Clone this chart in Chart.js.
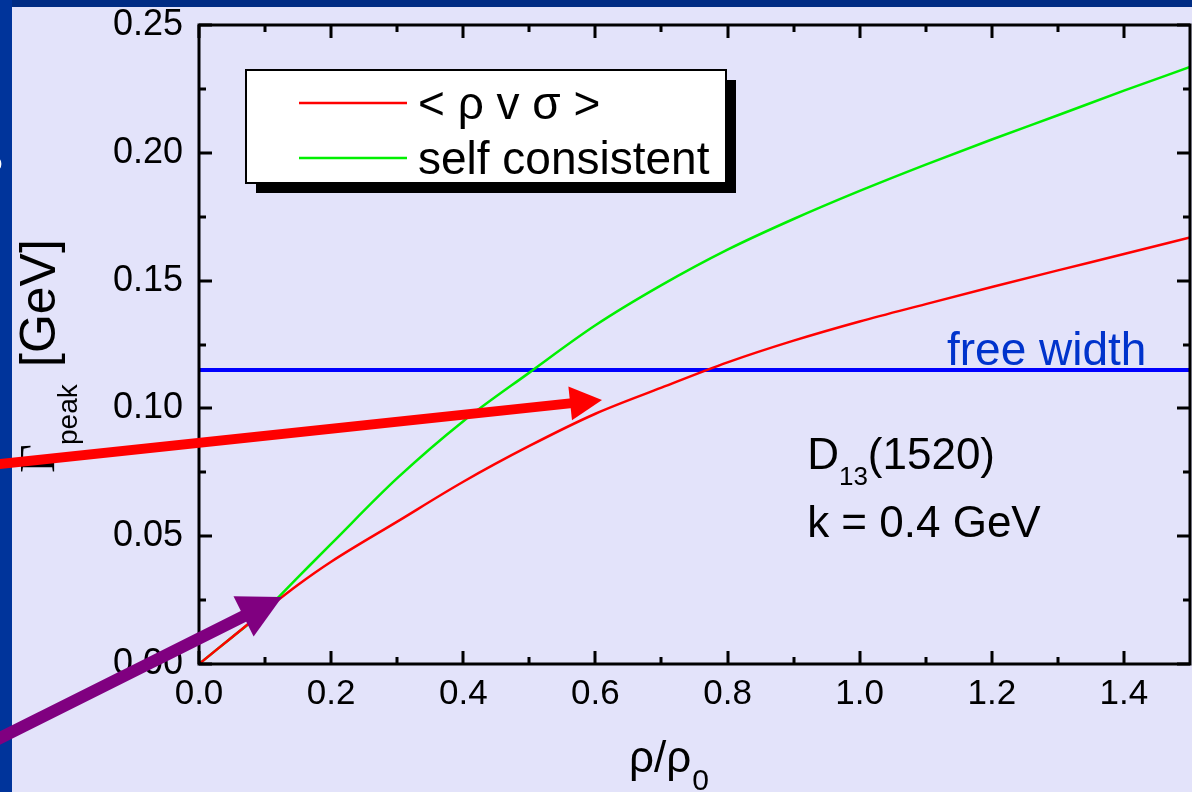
<!DOCTYPE html>
<html>
<head>
<meta charset="utf-8">
<script src="https://cdn.jsdelivr.net/npm/chart.js@4.4.1/dist/chart.umd.min.js"></script>
<style>
  html, body { margin: 0; padding: 0; background: #E3E3FA; overflow: hidden; }
  canvas { display: block; }
</style>
</head>
<body>
<canvas id="chart" width="1192" height="792"></canvas>
<script>
// Density in units of normal nuclear density
const rhoRatio = [0, 0.05, 0.1, 0.15, 0.2, 0.3, 0.4, 0.5, 0.6, 0.7, 0.8, 0.9, 1.0, 1.1, 1.2, 1.3, 1.4, 1.5];
// Peak width of the D13(1520) in GeV
const widthRhoVSigma = [0, 0.0105, 0.021, 0.031, 0.040, 0.0557, 0.0713, 0.0853, 0.0979, 0.1081, 0.118, 0.1265, 0.134, 0.1408, 0.1475, 0.154, 0.1604, 0.1669];
const widthSelfConsistent = [0, 0.0105, 0.021, 0.034, 0.047, 0.0727, 0.0950, 0.1140, 0.1325, 0.1482, 0.1621, 0.1741, 0.1851, 0.1954, 0.2052, 0.2147, 0.2243, 0.2336];
const freeWidth = 0.115;

const seriesLabels = ['< \u03C1 v \u03C3 >', 'self consistent'];
const seriesColors = ['#FF0000', '#00F000'];

const xTickValues = [0, 0.2, 0.4, 0.6, 0.8, 1.0, 1.2, 1.4];
const xMinorValues = [0.1, 0.3, 0.5, 0.7, 0.9, 1.1, 1.3];
const yTickValues = [0, 0.05, 0.10, 0.15, 0.20, 0.25];
const yMinorValues = [0.025, 0.075, 0.125, 0.175, 0.225];

// Arrow annotations in data units: [tailX, tailY, tipX, tipY]
const redArrow = [-0.3316, 0.0774, 0.610, 0.1033];
const purpleArrow = [-0.3316, -0.0329, 0.1257, 0.0262];

const FONT = '"Liberation Sans", Arial, Helvetica, sans-serif';

function toPoints(xs, ys) { return xs.map((x, i) => ({ x: x, y: ys[i] })); }

function drawArrow(ctx, x0, y0, x1, y1, shaft, headLen, headWidth, color) {
  const dx = x1 - x0, dy = y1 - y0;
  const len = Math.hypot(dx, dy);
  const ux = dx / len, uy = dy / len;
  const bx = x1 - ux * headLen, by = y1 - uy * headLen;
  ctx.save();
  ctx.strokeStyle = color;
  ctx.fillStyle = color;
  ctx.lineWidth = shaft;
  ctx.lineCap = 'butt';
  ctx.beginPath();
  ctx.moveTo(x0, y0);
  ctx.lineTo(bx + ux * 2, by + uy * 2);
  ctx.stroke();
  ctx.beginPath();
  ctx.moveTo(x1, y1);
  ctx.lineTo(bx - uy * headWidth / 2, by + ux * headWidth / 2);
  ctx.lineTo(bx + uy * headWidth / 2, by - ux * headWidth / 2);
  ctx.closePath();
  ctx.fill();
  ctx.restore();
}

function rotatedText(ctx, text, font, baseX, startY) {
  ctx.save();
  ctx.translate(baseX, startY);
  ctx.rotate(-Math.PI / 2);
  ctx.font = font;
  ctx.textAlign = 'left';
  ctx.textBaseline = 'alphabetic';
  ctx.fillText(text, 0, 0);
  ctx.restore();
}

const decorations = {
  id: 'decorations',
  beforeDraw(chart) {
    const ctx = chart.ctx;
    ctx.save();
    ctx.fillStyle = '#E3E3FA';
    ctx.fillRect(0, 0, chart.width, chart.height);
    ctx.fillStyle = '#002C84';
    ctx.fillRect(0, 0, chart.width, 7);
    ctx.fillStyle = '#00349B';
    ctx.fillRect(0, 0, 12, chart.height);
    ctx.fillStyle = '#FFFFFF';
    ctx.font = '22px ' + FONT;
    ctx.fillText('o', -10, 170);
    ctx.restore();
  },
  afterDatasetsDraw(chart) {
    const ctx = chart.ctx;
    const xs = chart.scales.x, ys = chart.scales.y;
    const { left, right, top, bottom } = chart.chartArea;
    ctx.save();
    ctx.strokeStyle = '#000';
    ctx.lineWidth = 3;
    ctx.strokeRect(left, top, right - left, bottom - top);
    ctx.beginPath();
    const tickX = (v, len) => {
      const p = Math.round(xs.getPixelForValue(v));
      ctx.moveTo(p, bottom); ctx.lineTo(p, bottom - len);
      ctx.moveTo(p, top); ctx.lineTo(p, top + len);
    };
    const tickY = (v, len) => {
      const p = Math.round(ys.getPixelForValue(v));
      ctx.moveTo(left, p); ctx.lineTo(left + len, p);
      ctx.moveTo(right, p); ctx.lineTo(right - len, p);
    };
    xTickValues.forEach(v => tickX(v, 13));
    xMinorValues.forEach(v => tickX(v, 7));
    yTickValues.forEach(v => tickY(v, 13));
    yMinorValues.forEach(v => tickY(v, 7));
    ctx.stroke();
    ctx.restore();
  },
  afterDraw(chart) {
    const ctx = chart.ctx;
    const xs = chart.scales.x, ys = chart.scales.y;
    const { left, top } = chart.chartArea;
    ctx.save();

    // legend box with drop shadow
    const lx = left + 47, ly = top + 45, lw = 480, lh = 113;
    ctx.fillStyle = '#000';
    ctx.fillRect(lx + 10, ly + 10, lw, lh);
    ctx.fillStyle = '#FFF';
    ctx.fillRect(lx, ly, lw, lh);
    ctx.strokeStyle = '#000';
    ctx.lineWidth = 2;
    ctx.strokeRect(lx, ly, lw, lh);
    const rows = [top + 78, top + 133];
    chart.data.datasets.slice(0, 2).forEach((ds, i) => {
      ctx.strokeStyle = ds.borderColor;
      ctx.lineWidth = 2.5;
      ctx.beginPath();
      ctx.moveTo(left + 100, rows[i]);
      ctx.lineTo(left + 208, rows[i]);
      ctx.stroke();
      ctx.fillStyle = '#000';
      ctx.font = '46px ' + FONT;
      ctx.textBaseline = 'alphabetic';
      ctx.textAlign = 'left';
      ctx.fillText(ds.label, left + 219, rows[i] + 16);
    });

    // free width label
    ctx.fillStyle = '#0033CC';
    ctx.font = '46px ' + FONT;
    ctx.textAlign = 'right';
    ctx.fillText('free width', xs.getPixelForValue(1.434), ys.getPixelForValue(freeWidth) - 5);

    // resonance and momentum annotation
    ctx.fillStyle = '#000';
    ctx.textAlign = 'left';
    const ax = xs.getPixelForValue(0.9205);
    const ay1 = ys.getPixelForValue(0.0763);
    const ay2 = ys.getPixelForValue(0.0497);
    ctx.font = '44px ' + FONT;
    ctx.fillText('D', ax, ay1);
    let w = ctx.measureText('D').width;
    ctx.font = '26px ' + FONT;
    ctx.fillText('13', ax + w, ay1 + 16);
    w += ctx.measureText('13').width;
    ctx.font = '44px ' + FONT;
    ctx.fillText('(1520)', ax + w, ay1);
    ctx.fillText('k = 0.4 GeV', ax, ay2);

    // axis titles
    ctx.fillStyle = '#000';
    ctx.font = '44px ' + FONT;
    ctx.textAlign = 'left';
    ctx.fillText('\u03C1/\u03C1', 629, 772);
    const tw = ctx.measureText('\u03C1/\u03C1').width;
    ctx.font = '30px ' + FONT;
    ctx.fillText('0', 629 + tw + 1, 790);

    rotatedText(ctx, '\u0393', '50px "Liberation Serif", "DejaVu Serif", serif', 54, 473);
    rotatedText(ctx, 'peak', '28px ' + FONT, 77, 445);
    rotatedText(ctx, '[GeV]', '50px ' + FONT, 55, 367);

    // arrows
    const px = v => xs.getPixelForValue(v), py = v => ys.getPixelForValue(v);
    drawArrow(ctx, px(redArrow[0]), py(redArrow[1]), px(redArrow[2]), py(redArrow[3]), 10, 32, 34, '#FF0000');
    drawArrow(ctx, px(purpleArrow[0]), py(purpleArrow[1]), px(purpleArrow[2]), py(purpleArrow[3]), 12, 43, 45, '#800080');
    ctx.restore();
  }
};

new Chart(document.getElementById('chart'), {
  type: 'line',
  data: {
    datasets: [
      {
        label: seriesLabels[0],
        data: toPoints(rhoRatio, widthRhoVSigma),
        borderColor: seriesColors[0],
        borderWidth: 2.5,
        pointRadius: 0,
        cubicInterpolationMode: 'monotone',
        fill: false
      },
      {
        label: seriesLabels[1],
        data: toPoints(rhoRatio, widthSelfConsistent),
        borderColor: seriesColors[1],
        borderWidth: 2.5,
        pointRadius: 0,
        cubicInterpolationMode: 'monotone',
        fill: false
      },
      {
        label: 'free width',
        data: [{ x: 0, y: freeWidth }, { x: 1.5, y: freeWidth }],
        borderColor: '#0000FF',
        borderWidth: 4,
        pointRadius: 0,
        fill: false
      }
    ]
  },
  options: {
    responsive: false,
    devicePixelRatio: 1,
    animation: false,
    layout: { padding: { left: 0, top: 25, right: 2, bottom: 0 } },
    plugins: { legend: { display: false }, tooltip: { enabled: false } },
    scales: {
      x: {
        type: 'linear',
        min: 0,
        max: 1.5,
        afterBuildTicks: s => { s.ticks = xTickValues.map(v => ({ value: v })); },
        afterFit: s => { s.height = 128; s.paddingLeft = 0; s.paddingRight = 0; },
        grid: { display: false, drawTicks: false },
        border: { display: false },
        ticks: {
          font: { family: FONT, size: 35 },
          color: '#000',
          padding: 9,
          maxRotation: 0,
          autoSkip: false,
          callback: v => Number(v).toFixed(1)
        }
      },
      y: {
        type: 'linear',
        min: 0,
        max: 0.25,
        afterBuildTicks: s => { s.ticks = yTickValues.map(v => ({ value: v })); },
        afterFit: s => { s.width = 199; s.paddingTop = 0; s.paddingBottom = 0; },
        grid: { display: false, drawTicks: false },
        border: { display: false },
        ticks: {
          font: { family: FONT, size: 36 },
          color: '#000',
          padding: 16,
          autoSkip: false,
          callback: v => Number(v).toFixed(2)
        }
      }
    }
  },
  plugins: [decorations]
});
</script>
</body>
</html>
